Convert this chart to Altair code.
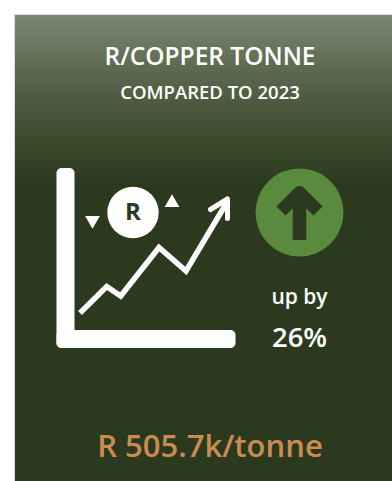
import altair as alt
import pandas as pd

W, H = 392, 481

# Sketched price trend inside the icon, in canvas units
trend_x = [80, 106.7, 120.7, 159, 186, 226.5]
trend_y = [313, 286.5, 296, 247.5, 271, 203]
head_x = [210.5, 227.5, 227.5]
head_y = [209.5, 199, 218.5]

# Text blocks
labels = ["R/COPPER TONNE", "COMPARED TO 2023", "up by", "26%", "R 505.7k/tonne"]
label_x = [210, 210, 299.5, 299.5, 210]
label_y = [57.5, 93, 298, 338.5, 448]
label_size = [24.5, 18.5, 21, 27.5, 31]
label_color = ["#ffffff", "#ffffff", "#ffffff", "#ffffff", "#cc8b50"]

x_scale = alt.Scale(domain=[0, W], nice=False, zero=False)
y_scale = alt.Scale(domain=[H, 0], nice=False, zero=False)
X = alt.X("x:Q", scale=x_scale, axis=None)
Y = alt.Y("y:Q", scale=y_scale, axis=None)


def table(**cols):
    return pd.DataFrame(cols)


panel = (
    alt.Chart(table(x=[14.5], x2=[W + 4], y=[14.5], y2=[H + 4]))
    .mark_rect(
        stroke="#dcdcdc",
        strokeWidth=1,
        color=alt.LinearGradient(
            gradient="linear",
            x1=0, y1=0, x2=0, y2=1,
            stops=[
                alt.GradientStop(color="#7c8774", offset=0),
                alt.GradientStop(color="#5c684f", offset=0.12),
                alt.GradientStop(color="#414f33", offset=0.24),
                alt.GradientStop(color="#2b3a1e", offset=0.36),
                alt.GradientStop(color="#2b3a1e", offset=1),
            ],
        ),
    )
    .encode(X, alt.X2("x2:Q"), Y, alt.Y2("y2:Q"))
)

# L-shaped chart axes of the icon
axes_icon = (
    alt.Chart(table(x=[56.5, 56.5], x2=[74.5, 235.5], y=[168, 330], y2=[348, 348]))
    .mark_bar(color="#ffffff", cornerRadius=5)
    .encode(X, alt.X2("x2:Q"), Y, alt.Y2("y2:Q"))
)


def polyline(xs, ys, width, color, cap="butt", join="miter"):
    data = table(x=xs, y=ys, i=list(range(len(xs))))
    return (
        alt.Chart(data)
        .mark_line(color=color, strokeWidth=width, strokeCap=cap, strokeJoin=join, interpolate="linear")
        .encode(X, Y, order="i:Q")
    )


trend = polyline(trend_x, trend_y, 5.5, "#ffffff")
head = polyline(head_x, head_y, 5, "#ffffff", cap="round", join="round")

rand_coin = (
    alt.Chart(table(x=[133], y=[212.5]))
    .mark_point(shape="circle", filled=True, size=2642, color="#ffffff", opacity=1)
    .encode(X, Y)
)
tri_up = (
    alt.Chart(table(x=[172], y=[200.7]))
    .mark_point(shape="triangle-up", filled=True, size=216, color="#ffffff", opacity=1)
    .encode(X, Y)
)
tri_down = (
    alt.Chart(table(x=[92.5], y=[222.3]))
    .mark_point(shape="triangle-down", filled=True, size=216, color="#ffffff", opacity=1)
    .encode(X, Y)
)

badge = (
    alt.Chart(table(x=[299.5], y=[212.5]))
    .mark_point(shape="circle", filled=True, size=7744, color="#5a8a3e", opacity=1)
    .encode(X, Y)
)
arrow_stem = polyline([299.5, 299.5], [196, 240], 13.5, "#2b3a1e")
arrow_head = polyline([281, 299.5, 318], [211, 192.5, 211], 13, "#2b3a1e", join="round")

text = (
    alt.Chart(table(x=label_x, y=label_y, label=labels, size=label_size, color=label_color))
    .mark_text(font="Open Sans", fontWeight=600, align="center", baseline="middle")
    .encode(
        X,
        Y,
        text="label:N",
        size=alt.Size("size:Q", scale=None, legend=None),
        color=alt.Color("color:N", scale=None, legend=None),
    )
)

coin_text = (
    alt.Chart(table(x=[133], y=[212.5], label=["R"]))
    .mark_text(font="Open Sans", fontWeight=700, fontSize=24, color="#2b3a1e", align="center", baseline="middle")
    .encode(X, Y, text="label:N")
)

chart = (
    alt.layer(panel, axes_icon, trend, head, rand_coin, tri_up, tri_down, badge, arrow_stem, arrow_head, text, coin_text)
    .properties(width=W, height=H, padding=0, background="#ffffff", autosize=alt.AutoSizeParams(type="none"))
    .configure_view(stroke=None)
)

chart.save("out.html", embed_options={"renderer": "svg", "actions": False})
